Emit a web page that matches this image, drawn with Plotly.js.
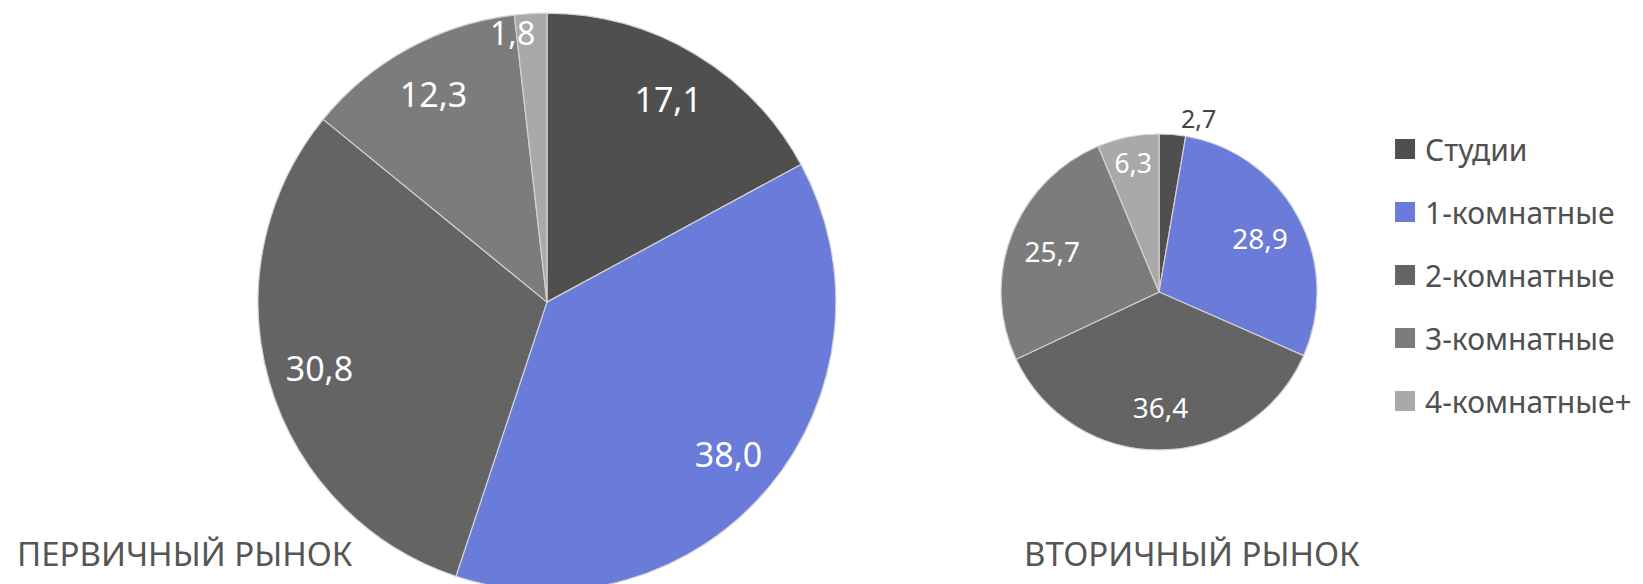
<!DOCTYPE html>
<html><head><meta charset="utf-8">
<script src="https://cdn.plot.ly/plotly-3.0.1.min.js"></script>
<style>html,body{margin:0;padding:0;background:#fff;width:1643px;height:584px;overflow:hidden}#chart{width:1643px;height:600px}</style>
</head><body><div id="chart"></div>
<script>
const categories = ['Студии', '1-комнатные', '2-комнатные', '3-комнатные', '4-комнатные+'];
const primaryValues = [17.1, 38.0, 30.8, 12.3, 1.8];
const secondaryValues = [2.7, 28.9, 36.4, 25.7, 6.3];
const marketTitles = ['ПЕРВИЧНЫЙ РЫНОК', 'ВТОРИЧНЫЙ РЫНОК'];
const colors = ['#4f4f4f', '#6a7bd9', '#646464', '#7c7c7c', '#a9a9a9'];

const font = 'Noto Sans, Open Sans, sans-serif';
const clear = categories.map(() => 'rgba(0,0,0,0)');
const fmt = '%{value:.1f}';

const bigDomain = {x: [0.157, 0.5088], y: [0.015, 0.978]};
const bigInnerDomain = {x: [0.182, 0.4839], y: [0.0833, 0.91]};
const smallDomain = {x: [0.6093, 0.8016], y: [0.25, 0.7767]};

function basePie(values, domain) {
  return {type: 'pie', labels: categories, values: values, sort: false, direction: 'clockwise', rotation: 0,
    domain: domain, marker: {colors: colors, line: {color: '#d2d2d2', width: 1.2}},
    textinfo: 'none', hoverinfo: 'label+value', showlegend: false};
}
function labelPie(values, domain, hole, templates, positions, size, outColor, rotation) {
  return {type: 'pie', labels: categories, values: values, sort: false, direction: 'clockwise', rotation: rotation || 0,
    domain: domain, hole: hole, marker: {colors: clear, line: {width: 0}},
    texttemplate: templates, textposition: positions, insidetextorientation: 'horizontal',
    insidetextfont: {family: font, size: size, color: '#ffffff'},
    outsidetextfont: {family: font, size: size, color: outColor},
    hoverinfo: 'skip', showlegend: false};
}

const traces = [
  basePie(primaryValues, bigDomain),
  labelPie(primaryValues, bigDomain, 0.64, [fmt, fmt, fmt, fmt, ''], 'inside', 34, '#ffffff'),
  labelPie(primaryValues, bigInnerDomain, 0, ['', '', '', '', fmt], ['none', 'none', 'none', 'none', 'outside'], 32, '#ffffff', 3),
  basePie(secondaryValues, smallDomain),
  labelPie(secondaryValues, smallDomain, 0.45, ['', fmt, fmt, fmt, fmt], 'inside', 28, '#444444'),
  labelPie(secondaryValues, smallDomain, 0, [fmt, '', '', '', ''], ['outside', 'none', 'none', 'none', 'none'], 25, '#444444')
];

const legendTraces = categories.map((c, i) => ({
  type: 'scatter', mode: 'markers', x: [null], y: [null], name: c,
  legendgroup: 'g' + i, showlegend: true, hoverinfo: 'skip',
  marker: {symbol: 'square', size: 16, color: colors[i], line: {color: colors[i], width: 4}}
}));

const layout = {
  width: 1643, height: 600,
  margin: {l: 0, r: 0, t: 0, b: 0},
  paper_bgcolor: '#ffffff', plot_bgcolor: '#ffffff',
  separators: ', ',
  xaxis: {visible: false}, yaxis: {visible: false},
  showlegend: true,
  legend: {x: 0.843, y: 0.795, xanchor: 'left', yanchor: 'top',
    font: {family: font, size: 30, color: '#505050'},
    tracegroupgap: 21, itemsizing: 'trace', bgcolor: 'rgba(0,0,0,0)'},
  annotations: [
    {text: marketTitles[0], xref: 'paper', yref: 'paper', x: 0.009, y: 0.0783, xanchor: 'left', yanchor: 'middle', showarrow: false, font: {family: font, size: 33, color: '#555555'}},
    {text: marketTitles[1], xref: 'paper', yref: 'paper', x: 0.622, y: 0.0783, xanchor: 'left', yanchor: 'middle', showarrow: false, font: {family: font, size: 33, color: '#555555'}}
  ]
};

Plotly.newPlot('chart', traces.concat(legendTraces), layout, {displayModeBar: false, staticPlot: true});
</script></body></html>
